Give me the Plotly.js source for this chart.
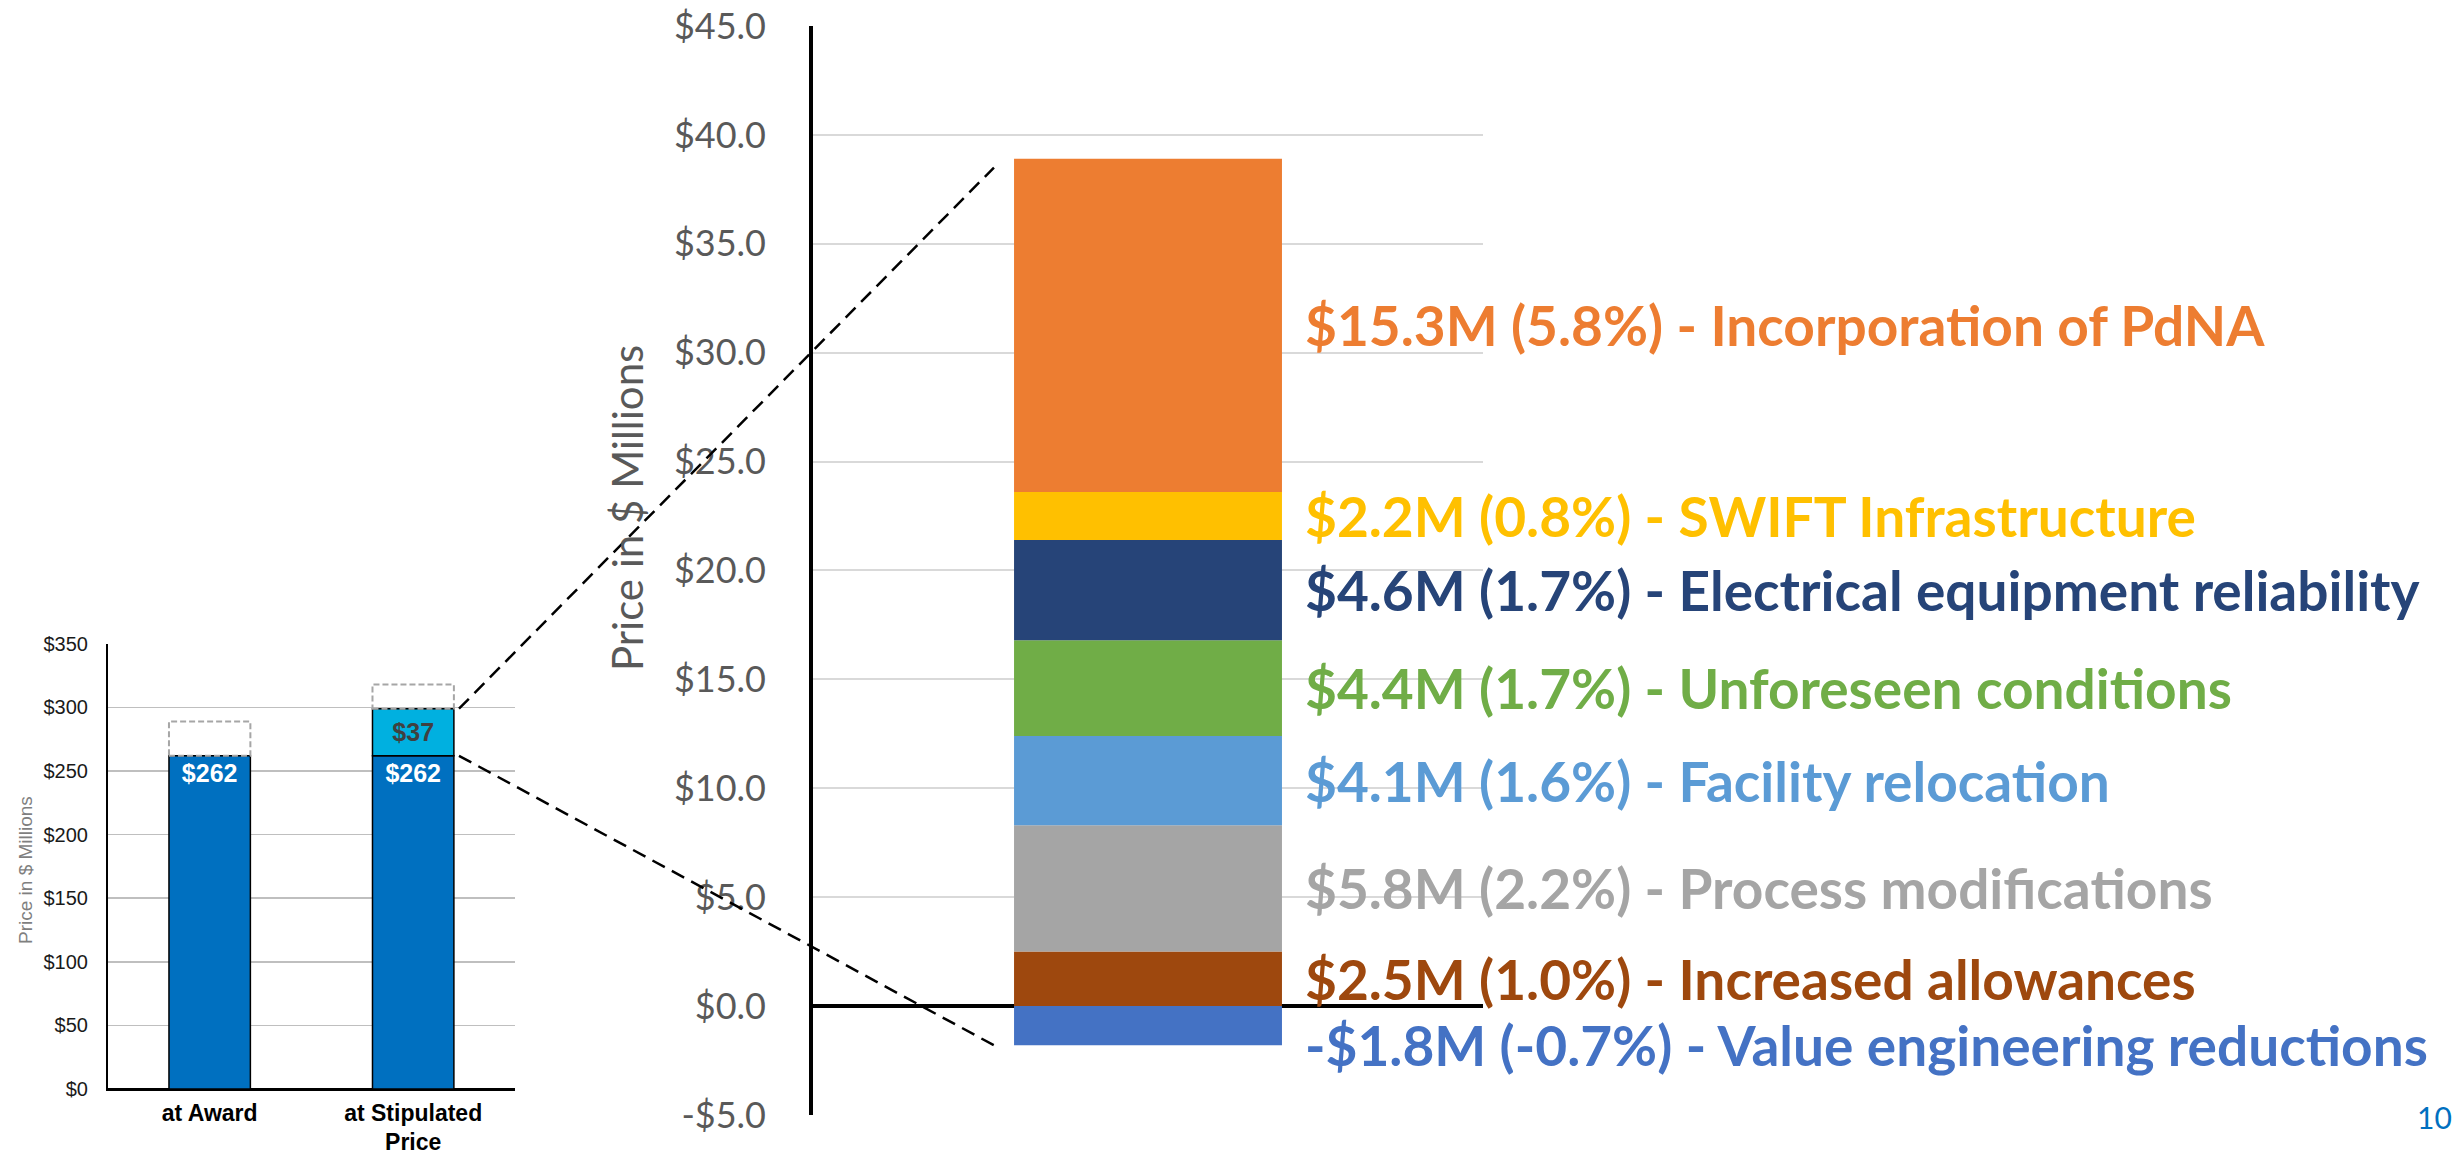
<!DOCTYPE html>
<html>
<head>
<meta charset="utf-8">
<script src="https://cdn.plot.ly/plotly-3.0.1.min.js"></script>
<style>html,body{margin:0;padding:0;background:#fff;} #chart{width:2458px;height:1156px;}</style>
</head>
<body>
<div id="chart"></div>
<script>
// ---- Small overview chart (price in $ millions) ----
const smallCategories = ['at Award', 'at Stipulated<br>Price'];
const baseValues = [262, 262];
const changeValues = [null, 37];
const dashedTops = [289, 318];
const smallTickVals = [0, 50, 100, 150, 200, 250, 300, 350];

// ---- Detail chart (change breakdown, $ millions) ----
const changeNames = ['Increased allowances', 'Process modifications', 'Facility relocation',
  'Unforeseen conditions', 'Electrical equipment reliability', 'SWIFT Infrastructure',
  'Incorporation of PdNA', 'Value engineering reductions'];
const changeAmounts = [2.5, 5.8, 4.1, 4.4, 4.6, 2.2, 15.3, -1.8];
const changePercents = [1.0, 2.2, 1.6, 1.7, 1.7, 0.8, 5.8, -0.7];
const changeColors = ['#9E480E', '#A5A5A5', '#5B9BD5', '#70AD47', '#264478', '#FFC000', '#ED7D31', '#4472C4'];
const mainTickVals = [-5, 0, 5, 10, 15, 20, 25, 30, 35, 40, 45];

const mainCat = 'Change';
const fmtMoney = v => (v < 0 ? '-' : '') + '$' + Math.abs(v).toFixed(1);

// geometry
const mainXDomain = [0.3308, 0.6033], mainYDomain = [0.0355, 0.9775];
const mainXRange = [-0.5, 0.5], mainYRange = [-5, 45];
const smallXDomain = [0.0439, 0.2095], smallYDomain = [0.058, 0.443];
const smallXRange = [-0.5, 1.5], smallYRange = [0, 350];
const barWidth = 0.4;
const toPaper = (dom, rng, v) => dom[0] + (v - rng[0]) / (rng[1] - rng[0]) * (dom[1] - dom[0]);

const traces = [];
// small chart
traces.push({
  type: 'bar', x: smallCategories, y: baseValues, xaxis: 'x2', yaxis: 'y2',
  marker: {color: '#0070C0', line: {color: '#000', width: 1.5}},
  texttemplate: '$%{y}', textposition: 'inside', insidetextanchor: 'end',
  textfont: {family: 'Liberation Sans, Arial', size: 25, color: '#fff', weight: 'bold'},
  hoverinfo: 'skip', showlegend: false, cliponaxis: false
});
traces.push({
  type: 'bar', x: smallCategories, y: changeValues, xaxis: 'x2', yaxis: 'y2',
  marker: {color: '#00B0E0', line: {color: '#000', width: 1.5}},
  texttemplate: '$%{y}', textposition: 'inside', insidetextanchor: 'middle',
  textfont: {family: 'Liberation Sans, Arial', size: 25, color: '#404040', weight: 'bold'},
  hoverinfo: 'skip', showlegend: false
});
// main chart stacked segments
for (let i = 0; i < changeNames.length; i++) {
  traces.push({
    type: 'bar', x: [mainCat], y: [changeAmounts[i]], name: changeNames[i],
    marker: {color: changeColors[i], line: {width: 0}},
    hoverinfo: 'skip', showlegend: false
  });
}

// annotations
const annotations = [];
let cum = 0;
for (let i = 0; i < changeNames.length; i++) {
  const v = changeAmounts[i];
  let yMid;
  if (v >= 0) { yMid = cum + v / 2; cum += v; } else { yMid = v; }
  const txt = (v < 0 ? '-' : '') + '$' + Math.abs(v).toFixed(1) + 'M (' + changePercents[i].toFixed(1) + '%) - ' + changeNames[i];
  annotations.push({
    xref: 'x', yref: 'y', x: 0.232, y: yMid, xanchor: 'left', yanchor: 'middle',
    text: txt, showarrow: false,
    font: {family: 'Lato', size: 55, color: changeColors[i], weight: 'bold'}
  });
}
const topTotal = cum;
annotations.push({
  xref: 'paper', yref: 'paper', x: 627 / 2458, y: 1 - 508 / 1156, textangle: -90,
  text: 'Price in $ Millions', showarrow: false, xanchor: 'center', yanchor: 'middle',
  font: {family: 'Lato', size: 42, color: '#595959'}
});
annotations.push({
  xref: 'paper', yref: 'paper', x: 25 / 2458, y: 1 - 870 / 1156, textangle: -90,
  text: 'Price in $ Millions', showarrow: false, xanchor: 'center', yanchor: 'middle',
  font: {family: 'Liberation Sans, Arial', size: 19, color: '#7F7F7F'}
});
annotations.push({
  xref: 'paper', yref: 'paper', x: 2454 / 2458, y: 1 - 1117 / 1156, xanchor: 'right', yanchor: 'middle',
  text: '10', showarrow: false, font: {family: 'Lato', size: 30, color: '#0070C0'}
});

// shapes: dashed outlines on small chart + connector lines
const shapes = [];
for (let i = 0; i < smallCategories.length; i++) {
  const base = baseValues[i] + (changeValues[i] || 0);
  shapes.push({
    type: 'rect', xref: 'x2', yref: 'y2', x0: i - barWidth / 2, x1: i + barWidth / 2,
    y0: base, y1: dashedTops[i], line: {color: '#A6A6A6', width: 2, dash: '6px,3px'},
    fillcolor: 'rgba(0,0,0,0)', layer: 'above'
  });
}
const stipIdx = 1;
const stipTop = baseValues[stipIdx] + changeValues[stipIdx];
const negTotal = changeAmounts.filter(v => v < 0).reduce((a, b) => a + b, 0);
const sx = toPaper(smallXDomain, smallXRange, stipIdx + barWidth / 2 + 0.025);
const mx = toPaper(mainXDomain, mainXRange, -barWidth / 2 - 0.03);
shapes.push({
  type: 'line', xref: 'paper', yref: 'paper',
  x0: sx, y0: toPaper(smallYDomain, smallYRange, stipTop),
  x1: mx, y1: toPaper(mainYDomain, mainYRange, topTotal - 0.4),
  line: {color: '#000', width: 2.5, dash: '14px,8px'}
});
shapes.push({
  type: 'line', xref: 'paper', yref: 'paper',
  x0: sx, y0: toPaper(smallYDomain, smallYRange, baseValues[stipIdx]),
  x1: mx, y1: toPaper(mainYDomain, mainYRange, negTotal),
  line: {color: '#000', width: 2.5, dash: '14px,8px'}
});

const layout = {
  width: 2458, height: 1156,
  margin: {l: 0, r: 0, t: 0, b: 0},
  paper_bgcolor: '#fff', plot_bgcolor: 'rgba(0,0,0,0)',
  barmode: 'relative', bargap: 0.6,
  showlegend: false,
  xaxis: {
    domain: mainXDomain, range: mainXRange, type: 'category',
    showgrid: false, showticklabels: false, showline: false, zeroline: false, ticks: '', fixedrange: true
  },
  yaxis: {
    domain: mainYDomain, range: mainYRange, tickvals: mainTickVals, ticktext: mainTickVals.map(fmtMoney),
    tickfont: {family: 'Lato', size: 36, color: '#595959'}, ticklabelstandoff: 36,
    showgrid: true, gridcolor: '#D9D9D9', gridwidth: 2,
    showline: true, linecolor: '#000', linewidth: 4,
    zeroline: true, zerolinecolor: '#000', zerolinewidth: 3.5, ticks: '', fixedrange: true
  },
  xaxis2: {
    domain: smallXDomain, range: smallXRange, type: 'category', anchor: 'y2',
    showgrid: false, showline: true, linecolor: '#000', linewidth: 2, zeroline: false, ticks: '',
    tickfont: {family: 'Liberation Sans, Arial', size: 23, color: '#000', weight: 'bold'},
    ticklabelstandoff: 2, fixedrange: true
  },
  yaxis2: {
    domain: smallYDomain, range: smallYRange, anchor: 'x2', tickvals: smallTickVals,
    ticktext: smallTickVals.map(v => '$' + v),
    tickfont: {family: 'Liberation Sans, Arial', size: 20, color: '#1a1a1a'}, ticklabelstandoff: 14,
    showgrid: true, gridcolor: '#BFBFBF', gridwidth: 1.5,
    showline: true, linecolor: '#000', linewidth: 2,
    zeroline: true, zerolinecolor: '#000', zerolinewidth: 2, ticks: '', fixedrange: true
  },
  annotations: annotations,
  shapes: shapes,
  font: {family: 'Lato'}
};

Plotly.newPlot('chart', traces, layout, {staticPlot: true, displayModeBar: false});
</script>
</body>
</html>
